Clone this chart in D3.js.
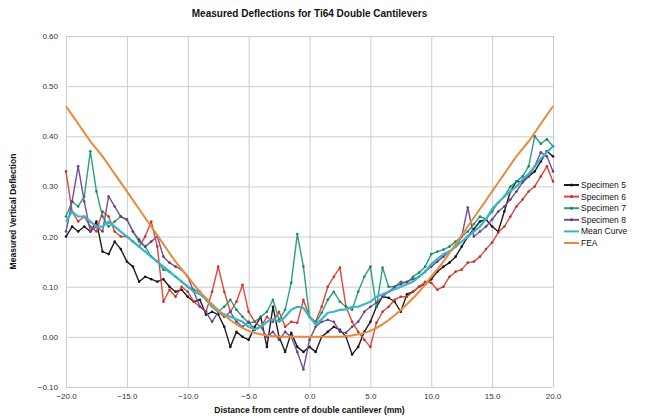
<!DOCTYPE html>
<html lang="en">
	<head>
		<meta charset="utf-8">
		<title>Measured Deflections for Ti64 Double Cantilevers</title>
		<script type="text/javascript" src="https://cdn.jsdelivr.net/npm/d3@7"></script>
		<style type="text/css">
			body { margin: 0; background: #fff; }
			text { font-family: "Liberation Sans", Arial, sans-serif; }
		</style>
	</head>
	<body>
		<script type="text/javascript">

			//Width and height
			var w = 660;
			var h = 419;
			var margin = {top: 36, right: 107, bottom: 32, left: 66};

			// x positions (mm) of the measured points
			var xPos = [-20,-19.5,-19,-18.5,-18,-17.5,-17,-16.5,-16,-15.5,-15,-14.5,-14,-13.5,-13,-12.5,-12,-11.5,-11,-10.5,
				-10,-9.5,-9,-8.5,-8,-7.5,-7,-6.5,-6,-5.5,-5,-4.5,-4,-3.5,-3,-2.5,-2,-1.5,-1,-0.5,
				0,0.5,1,1.5,2,2.5,3,3.5,4,4.5,5,5.5,6,6.5,7,7.5,8,8.5,9,9.5,
				10,10.5,11,11.5,12,12.5,13,13.5,14,14.5,15,15.5,16,16.5,17,17.5,18,18.5,19,19.5,20];

			var specimen5 = [0.20,0.22,0.21,0.22,0.21,0.23,0.17,0.165,0.19,0.175,0.15,0.14,0.11,0.12,0.115,0.11,0.115,0.10,0.09,0.094,
				0.08,0.07,0.074,0.044,0.05,0.045,0.02,-0.02,0.01,0.0,-0.006,0.02,0.04,-0.02,0.06,0.0,-0.03,0.008,-0.02,-0.03,
				-0.02,-0.03,0.0,0.01,0.02,0.014,0.0,-0.035,-0.02,0.01,0.03,0.06,0.08,0.078,0.07,0.05,0.085,0.09,0.10,0.105,
				0.115,0.13,0.14,0.148,0.16,0.18,0.20,0.215,0.23,0.234,0.22,0.21,0.25,0.29,0.31,0.31,0.32,0.33,0.35,0.37,0.36];

			var specimen6 = [0.33,0.25,0.23,0.24,0.22,0.21,0.25,0.24,0.21,0.20,0.20,0.19,0.18,0.20,0.23,0.18,0.07,0.094,0.08,0.10,
				0.09,0.07,0.06,0.05,0.09,0.14,0.09,0.05,0.07,0.104,0.05,0.03,0.02,0.04,0.03,0.05,0.02,0.03,0.028,0.074,
				0.04,0.03,0.06,0.10,0.12,0.138,0.06,0.03,0.01,-0.006,-0.02,0.028,0.05,0.06,0.074,0.08,0.08,0.09,0.10,0.11,
				0.108,0.094,0.10,0.12,0.13,0.134,0.148,0.15,0.16,0.175,0.188,0.208,0.22,0.24,0.26,0.274,0.29,0.30,0.32,0.34,0.31];

			var specimen7 = [0.24,0.27,0.26,0.28,0.37,0.29,0.24,0.22,0.23,0.24,0.234,0.21,0.19,0.18,0.16,0.15,0.134,0.13,0.12,0.11,
				0.10,0.094,0.09,0.074,0.06,0.05,0.06,0.074,0.054,0.04,0.028,0.03,0.04,0.05,0.074,0.034,0.054,0.108,0.205,0.14,
				0.04,0.028,0.048,0.074,0.09,0.07,0.06,0.054,0.09,0.12,0.14,0.06,0.138,0.10,0.10,0.11,0.108,0.12,0.128,0.14,
				0.165,0.17,0.174,0.18,0.19,0.20,0.21,0.225,0.24,0.235,0.25,0.268,0.28,0.30,0.31,0.32,0.34,0.40,0.385,0.394,0.38];

			var specimen8 = [0.21,0.27,0.34,0.27,0.21,0.22,0.21,0.28,0.26,0.24,0.234,0.21,0.194,0.18,0.19,0.20,0.16,0.148,0.14,0.134,
				0.12,0.09,0.06,0.05,0.03,0.05,0.04,0.05,0.03,0.02,0.03,0.014,0.02,0.0,0.01,-0.006,0.01,0.0,-0.03,-0.065,
				-0.006,0.02,0.03,0.034,0.03,0.01,0.008,0.02,0.03,0.05,0.06,0.068,0.08,0.09,0.10,0.105,0.11,0.115,0.12,0.13,
				0.14,0.15,0.16,0.17,0.18,0.20,0.258,0.20,0.21,0.22,0.234,0.25,0.26,0.274,0.29,0.308,0.32,0.34,0.368,0.36,0.33];

			var meanCurve = [0.23,0.25,0.24,0.24,0.23,0.22,0.22,0.23,0.22,0.21,0.20,0.19,0.18,0.17,0.16,0.15,0.14,0.13,0.12,0.11,
				0.10,0.09,0.085,0.075,0.06,0.05,0.045,0.04,0.035,0.03,0.02,0.015,0.02,0.03,0.035,0.03,0.04,0.054,0.06,0.058,
				0.04,0.025,0.035,0.048,0.05,0.054,0.055,0.06,0.06,0.065,0.07,0.08,0.085,0.09,0.095,0.10,0.105,0.11,0.12,0.13,
				0.145,0.155,0.165,0.17,0.18,0.19,0.20,0.21,0.22,0.235,0.255,0.268,0.28,0.29,0.30,0.314,0.325,0.34,0.355,0.368,0.38];

			// FEA prediction, 1 mm spacing
			var feaX = [-20,-19,-18,-17,-16,-15,-14,-13,-12,-11,-10,-9,-8,-7,-6,-5,-4,-3,-2,-1,0,
				1,2,3,4,5,6,7,8,9,10,11,12,13,14,15,16,17,18,19,20];
			var feaY = [0.46,0.425,0.39,0.36,0.325,0.29,0.255,0.22,0.185,0.15,0.12,0.09,0.065,0.043,0.025,0.012,0.005,0.001,0.0,0.0,0.0,
				0.0,0.0,0.001,0.005,0.012,0.025,0.043,0.065,0.09,0.12,0.15,0.185,0.22,0.255,0.29,0.325,0.36,0.39,0.425,0.46];

			var xTicks = [-20,-15,-10,-5,0,5,10,15,20];
			var yTicks = [-0.1,0,0.1,0.2,0.3,0.4,0.5,0.6];

			var seriesNames = ["Specimen 5","Specimen 6","Specimen 7","Specimen 8","Mean Curve","FEA"];
			var seriesColors = ["#1c1c1c","#e2453b","#27a27a","#734f9c","#38b6c6","#e98a3a"];

			var series = [
				{name: seriesNames[0], color: seriesColors[0], xs: xPos, ys: specimen5, width: 1.4, dots: true},
				{name: seriesNames[1], color: seriesColors[1], xs: xPos, ys: specimen6, width: 1.4, dots: true},
				{name: seriesNames[2], color: seriesColors[2], xs: xPos, ys: specimen7, width: 1.4, dots: true},
				{name: seriesNames[3], color: seriesColors[3], xs: xPos, ys: specimen8, width: 1.4, dots: true},
				{name: seriesNames[4], color: seriesColors[4], xs: xPos, ys: meanCurve, width: 2.2, dots: false},
				{name: seriesNames[5], color: seriesColors[5], xs: feaX, ys: feaY, width: 2, dots: false}
			];

			var iw = w - margin.left - margin.right;
			var ih = h - margin.top - margin.bottom;

			var x = d3.scaleLinear().domain([-20, 20]).range([0, iw]);
			var y = d3.scaleLinear().domain([-0.1, 0.6]).range([ih, 0]);

			//Create SVG element
			var svg = d3.select("body")
						.append("svg")
						.attr("width", w)
						.attr("height", h);

			var g = svg.append("g")
				.attr("transform", "translate(" + margin.left + "," + margin.top + ")");

			// grid
			g.append("g")
				.attr("class", "grid")
				.call(d3.axisLeft(y).tickValues(yTicks).tickSize(-iw).tickFormat(""))
				.call(function(s) {
					s.select(".domain").remove();
					s.selectAll("line").attr("stroke", "#cdcdcd");
				});
			g.append("g")
				.attr("class", "grid")
				.attr("transform", "translate(0," + ih + ")")
				.call(d3.axisBottom(x).tickValues(xTicks).tickSize(-ih).tickFormat(""))
				.call(function(s) {
					s.select(".domain").remove();
					s.selectAll("line").attr("stroke", "#cdcdcd");
				});

			// axis labels
			var yAxis = g.append("g")
				.call(d3.axisLeft(y).tickValues(yTicks).tickSize(0).tickPadding(8).tickFormat(d3.format(".2f")));
			yAxis.select(".domain").remove();
			yAxis.selectAll("text")
				.attr("font-size", 8)
				.attr("fill", "#333");

			var xAxis = g.append("g")
				.attr("transform", "translate(0," + ih + ")")
				.call(d3.axisBottom(x).tickValues(xTicks).tickSize(0).tickPadding(6).tickFormat(d3.format(".1f")));
			xAxis.select(".domain").remove();
			xAxis.selectAll("text")
				.attr("font-size", 8)
				.attr("fill", "#333");

			// lines
			var line = d3.line()
				.x(function(d) { return x(d[0]); })
				.y(function(d) { return y(d[1]); });

			series.forEach(function(s) {
				var pts = s.xs.map(function(v, i) { return [v, s.ys[i]]; });
				g.append("path")
					.datum(pts)
					.attr("fill", "none")
					.attr("stroke", s.color)
					.attr("stroke-width", s.width)
					.attr("stroke-linejoin", "round")
					.attr("d", s.name == "FEA" ? line.curve(d3.curveMonotoneX) : line.curve(d3.curveLinear));
				if (s.dots) {
					g.append("g")
						.selectAll("circle")
						.data(pts)
						.enter()
						.append("circle")
						.attr("cx", function(d) { return x(d[0]); })
						.attr("cy", function(d) { return y(d[1]); })
						.attr("r", 1.3)
						.attr("fill", d3.color(s.color).darker(0.6));
				}
			});

			// title
			svg.append("text")
				.attr("x", margin.left + iw / 2)
				.attr("y", 17)
				.attr("text-anchor", "middle")
				.attr("font-size", 10)
				.attr("font-weight", "bold")
				.attr("fill", "#111")
				.text("Measured Deflections for Ti64 Double Cantilevers");

			svg.append("text")
				.attr("x", margin.left + iw / 2)
				.attr("y", 413)
				.attr("text-anchor", "middle")
				.attr("font-size", 8.5)
				.attr("font-weight", "bold")
				.attr("fill", "#111")
				.text("Distance from centre of double cantilever (mm)");

			svg.append("text")
				.attr("transform", "translate(16," + (margin.top + ih / 2) + ") rotate(-90)")
				.attr("text-anchor", "middle")
				.attr("font-size", 8.5)
				.attr("font-weight", "bold")
				.attr("fill", "#111")
				.text("Measured Vertical Deflection");

			// legend
			var legend = svg.append("g")
				.attr("transform", "translate(564,185)");
			var item = legend.selectAll("g")
				.data(series)
				.enter()
				.append("g")
				.attr("transform", function(d, i) { return "translate(0," + (i * 11.6) + ")"; });
			item.append("line")
				.attr("x1", 0).attr("x2", 15)
				.attr("stroke", function(d) { return d.color; })
				.attr("stroke-width", 2);
			item.filter(function(d) { return d.dots; })
				.append("circle")
				.attr("cx", 7.5)
				.attr("r", 1.5)
				.attr("fill", function(d) { return d3.color(d.color).darker(0.6); });
			item.append("text")
				.attr("x", 17)
				.attr("dy", "0.35em")
				.attr("font-size", 8.5)
				.attr("fill", "#111")
				.text(function(d) { return d.name; });

		</script>
	</body>
</html>
